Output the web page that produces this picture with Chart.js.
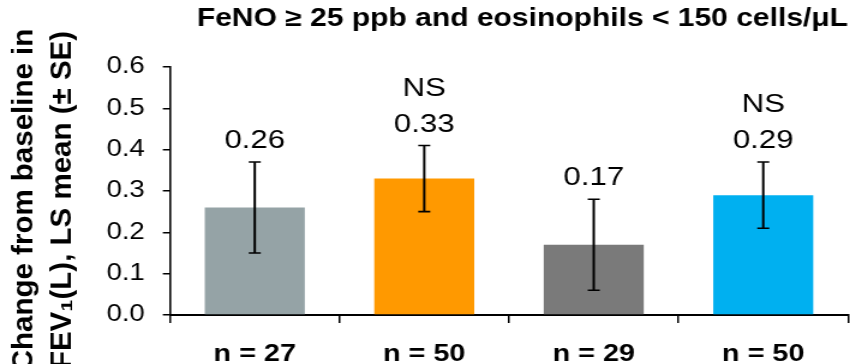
<!DOCTYPE html>
<html>
<head>
<meta charset="utf-8">
<script src="https://cdn.jsdelivr.net/npm/chart.js@4"></script>
<style>
  html, body { margin: 0; padding: 0; background: #fff; overflow: hidden; }
  /* the source picture is stretched sideways, so the chart is drawn narrow and widened */
  #wrap { width: 708px; height: 364px; transform: scaleX(1.2006); transform-origin: 0 0; }
</style>
</head>
<body>
<div id="wrap"><canvas id="bar-chart"></canvas></div>
<script>
// #region Data
const groups = ["n = 27", "n = 50", "n = 29", "n = 50"];
const lsMean = [0.26, 0.33, 0.17, 0.29];
const seLow = [0.15, 0.25, 0.06, 0.21];
const seHigh = [0.37, 0.41, 0.28, 0.37];
const sigText = ["", "NS", "", "NS"];
const yMin = 0;
const yMax = 0.6;
const yStep = 0.1;
// #endregion

const barColors = ["#95A3A6", "#FF9900", "#7A7A7A", "#00B0F0"];
const STRETCH = 850 / 708;
const FONT = "'Liberation Sans', Arial, sans-serif";

// error bars, value labels and NS marks
const errorBars = {
    id: "errorBars",
    afterDatasetsDraw(chart) {
        const ctx = chart.ctx;
        const y = chart.scales.y;
        const meta = chart.getDatasetMeta(0);
        ctx.save();
        ctx.strokeStyle = "#000";
        ctx.fillStyle = "#000";
        meta.data.forEach((bar, i) => {
            const x = bar.x;
            const top = y.getPixelForValue(seHigh[i]);
            const bottom = y.getPixelForValue(seLow[i]);
            ctx.lineWidth = 2;
            ctx.beginPath();
            ctx.moveTo(x, top);
            ctx.lineTo(x, bottom);
            ctx.stroke();
            ctx.lineWidth = 1.6;
            ctx.beginPath();
            ctx.moveTo(x - 5, top);
            ctx.lineTo(x + 5, top);
            ctx.moveTo(x - 5, bottom);
            ctx.lineTo(x + 5, bottom);
            ctx.stroke();

            ctx.font = `26px ${FONT}`;
            ctx.textAlign = "center";
            ctx.textBaseline = "alphabetic";
            const labelY = top - 14;
            ctx.fillText(lsMean[i].toFixed(2), x, labelY);
            if (sigText[i]) {
                ctx.fillText(sigText[i], x, labelY - 36);
            }
        });
        ctx.restore();
    }
};

// title and rotated y title (drawn by hand so they sit where the source has them)
const titles = {
    id: "titles",
    afterDraw(chart) {
        const ctx = chart.ctx;
        ctx.save();
        ctx.fillStyle = "#000";
        ctx.font = `bold 25px ${FONT}`;
        ctx.textAlign = "right";
        ctx.textBaseline = "alphabetic";
        ctx.fillText("FeNO \u2265 25 ppb and eosinophils < 150 cells/\u03BCL", chart.chartArea.right, 26);
        ctx.restore();

        // undo the sideways stretch for the vertical title
        const cy = 200;
        ctx.save();
        ctx.scale(1 / STRETCH, 1);
        ctx.fillStyle = "#000";
        ctx.font = `bold 29.5px ${FONT}`;
        ctx.textAlign = "center";
        ctx.textBaseline = "alphabetic";
        [["Change from baseline in", 33], ["FEV\u2081(L), LS mean (\u00B1 SE)", 71]].forEach(([t, bx]) => {
            ctx.save();
            ctx.translate(bx, cy);
            ctx.rotate(-Math.PI / 2);
            ctx.fillText(t, 0, 0);
            ctx.restore();
        });
        ctx.restore();
    }
};

new Chart(document.getElementById("bar-chart"), {
    type: "bar",
    data: {
        labels: groups,
        datasets: [{
            data: lsMean,
            backgroundColor: barColors,
            borderWidth: 0,
            barPercentage: 0.59,
            categoryPercentage: 1
        }]
    },
    options: {
        responsive: true,
        maintainAspectRatio: false,
        devicePixelRatio: 1,
        animation: false,
        layout: { padding: { top: 67, right: 1.7, left: 0, bottom: 0 } },
        plugins: {
            legend: { display: false },
            tooltip: { enabled: false }
        },
        scales: {
            x: {
                grid: { drawOnChartArea: false, drawTicks: true, tickLength: 8, color: "#000", lineWidth: 1.5, offset: true },
                border: { display: true, color: "#000", width: 2 },
                ticks: { color: "#000", font: { family: FONT, size: 24, weight: "bold" }, padding: 17, maxRotation: 0 },
                afterFit(scale) { scale.height = 49; }
            },
            y: {
                min: yMin,
                max: yMax,
                grid: { drawOnChartArea: false, drawTicks: true, tickLength: 6, color: "#000", lineWidth: 1.5 },
                border: { display: true, color: "#000", width: 1.6 },
                ticks: {
                    stepSize: yStep,
                    color: "#000",
                    padding: 15,
                    font: { family: FONT, size: 23 },
                    callback: v => v.toFixed(1)
                },
                afterFit(scale) { scale.width = 141.6; }
            }
        }
    },
    plugins: [errorBars, titles]
});
</script>
</body>
</html>
